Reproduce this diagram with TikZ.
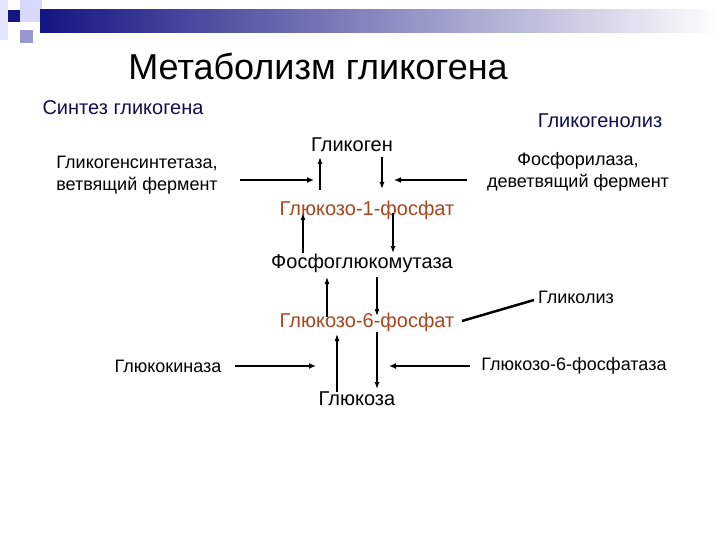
\documentclass[tikz,border=0pt]{standalone}
\usepackage{fontspec}
\setmainfont{Liberation Sans}
\usetikzlibrary{arrows.meta}
\definecolor{brn}{RGB}{170,70,30}
\definecolor{dblue}{RGB}{20,20,130}
\definecolor{navy}{RGB}{15,15,80}
\begin{document}
\begin{tikzpicture}[x=1pt,y=-1pt,
  lbl/.style={font=\fontsize{20}{24}\selectfont,inner sep=0pt,align=center},
  sml/.style={lbl,font=\fontsize{18}{22}\selectfont},
  red/.style={lbl,text=brn},
  ar/.style={-{Latex[length=7pt,width=5pt]},line width=1.2pt},
  har/.style={-{Latex[length=7pt,width=6pt]},line width=2.5pt}]
\useasboundingbox[fill=white] (0,0) rectangle (720,540);
% decoration
\fill[blue!10] (0,0) rectangle (8,40);
\fill[blue!15] (20,0) rectangle (42,22);
\fill[left color=dblue,right color=white] (40,10) rectangle (720,33);
\fill[blue!35!gray!60] (20,30) rectangle (33,43);
\fill[dblue] (8,10) rectangle (20,22);
% texts
\node[font=\fontsize{36}{40}\selectfont,inner sep=0pt] (title) at (318,66) {Метаболизм гликогена};
\node[lbl,text=navy] (synt) at (123,108) {Синтез гликогена};
\node[lbl,text=navy] (lyz) at (600,121) {Гликогенолиз};
\node[sml] (gs) at (137,175) {Гликогенсинтетаза,\\ветвящий фермент};
\node[sml] (ph) at (578,172) {Фосфорилаза,\\деветвящий фермент};
\node[lbl] (glg) at (352,145) {Гликоген};
\node[red] (g1p) at (367,210) {Глюкозо-1-фосфат};
\node[lbl] (pgm) at (362,263) {Фосфоглюкомутаза};
\node[red] (g6p) at (367,322) {Глюкозо-6-фосфат};
\node[sml] (gly) at (576,297) {Гликолиз};
\node[sml] (gk) at (168,366) {Глюкокиназа};
\node[sml] (g6pa) at (574,366) {Глюкозо-6-фосфатаза};
\node[lbl] (glc) at (357,399) {Глюкоза};
% coordinates
\coordinate (a1s) at (320,190); \coordinate (a1e) at (320,157);
\coordinate (a2s) at (382,157); \coordinate (a2e) at (382,189);
\coordinate (h1s) at (240,180); \coordinate (h1e) at (314,180);
\coordinate (h2s) at (467,180); \coordinate (h2e) at (394,180);
\coordinate (a3s) at (303,253); \coordinate (a3e) at (303,213);
\coordinate (a4s) at (393,213); \coordinate (a4e) at (393,253);
\coordinate (a5s) at (327,317); \coordinate (a5e) at (327,277);
\coordinate (a6s) at (377,277); \coordinate (a6e) at (377,316);
\coordinate (a7s) at (337,392); \coordinate (a7e) at (337,334);
\coordinate (a8s) at (377,332); \coordinate (a8e) at (377,389);
\coordinate (h3s) at (235,366); \coordinate (h3e) at (316,366);
\coordinate (h4s) at (470,366); \coordinate (h4e) at (389,366);
\coordinate (ls) at (462,321); \coordinate (le) at (534,300);
\draw[ar] (a1s) -- (a1e);
\draw[ar] (a2s) -- (a2e);
\draw[har] (h1s) -- (h1e);
\draw[har] (h2s) -- (h2e);
\draw[ar] (a3s) -- (a3e);
\draw[ar] (a4s) -- (a4e);
\draw[ar] (a5s) -- (a5e);
\draw[ar] (a6s) -- (a6e);
\draw[ar] (a7s) -- (a7e);
\draw[ar] (a8s) -- (a8e);
\draw[har] (h3s) -- (h3e);
\draw[har] (h4s) -- (h4e);
\draw[line width=2.5pt] (ls) -- (le);
\end{tikzpicture}
\end{document}
